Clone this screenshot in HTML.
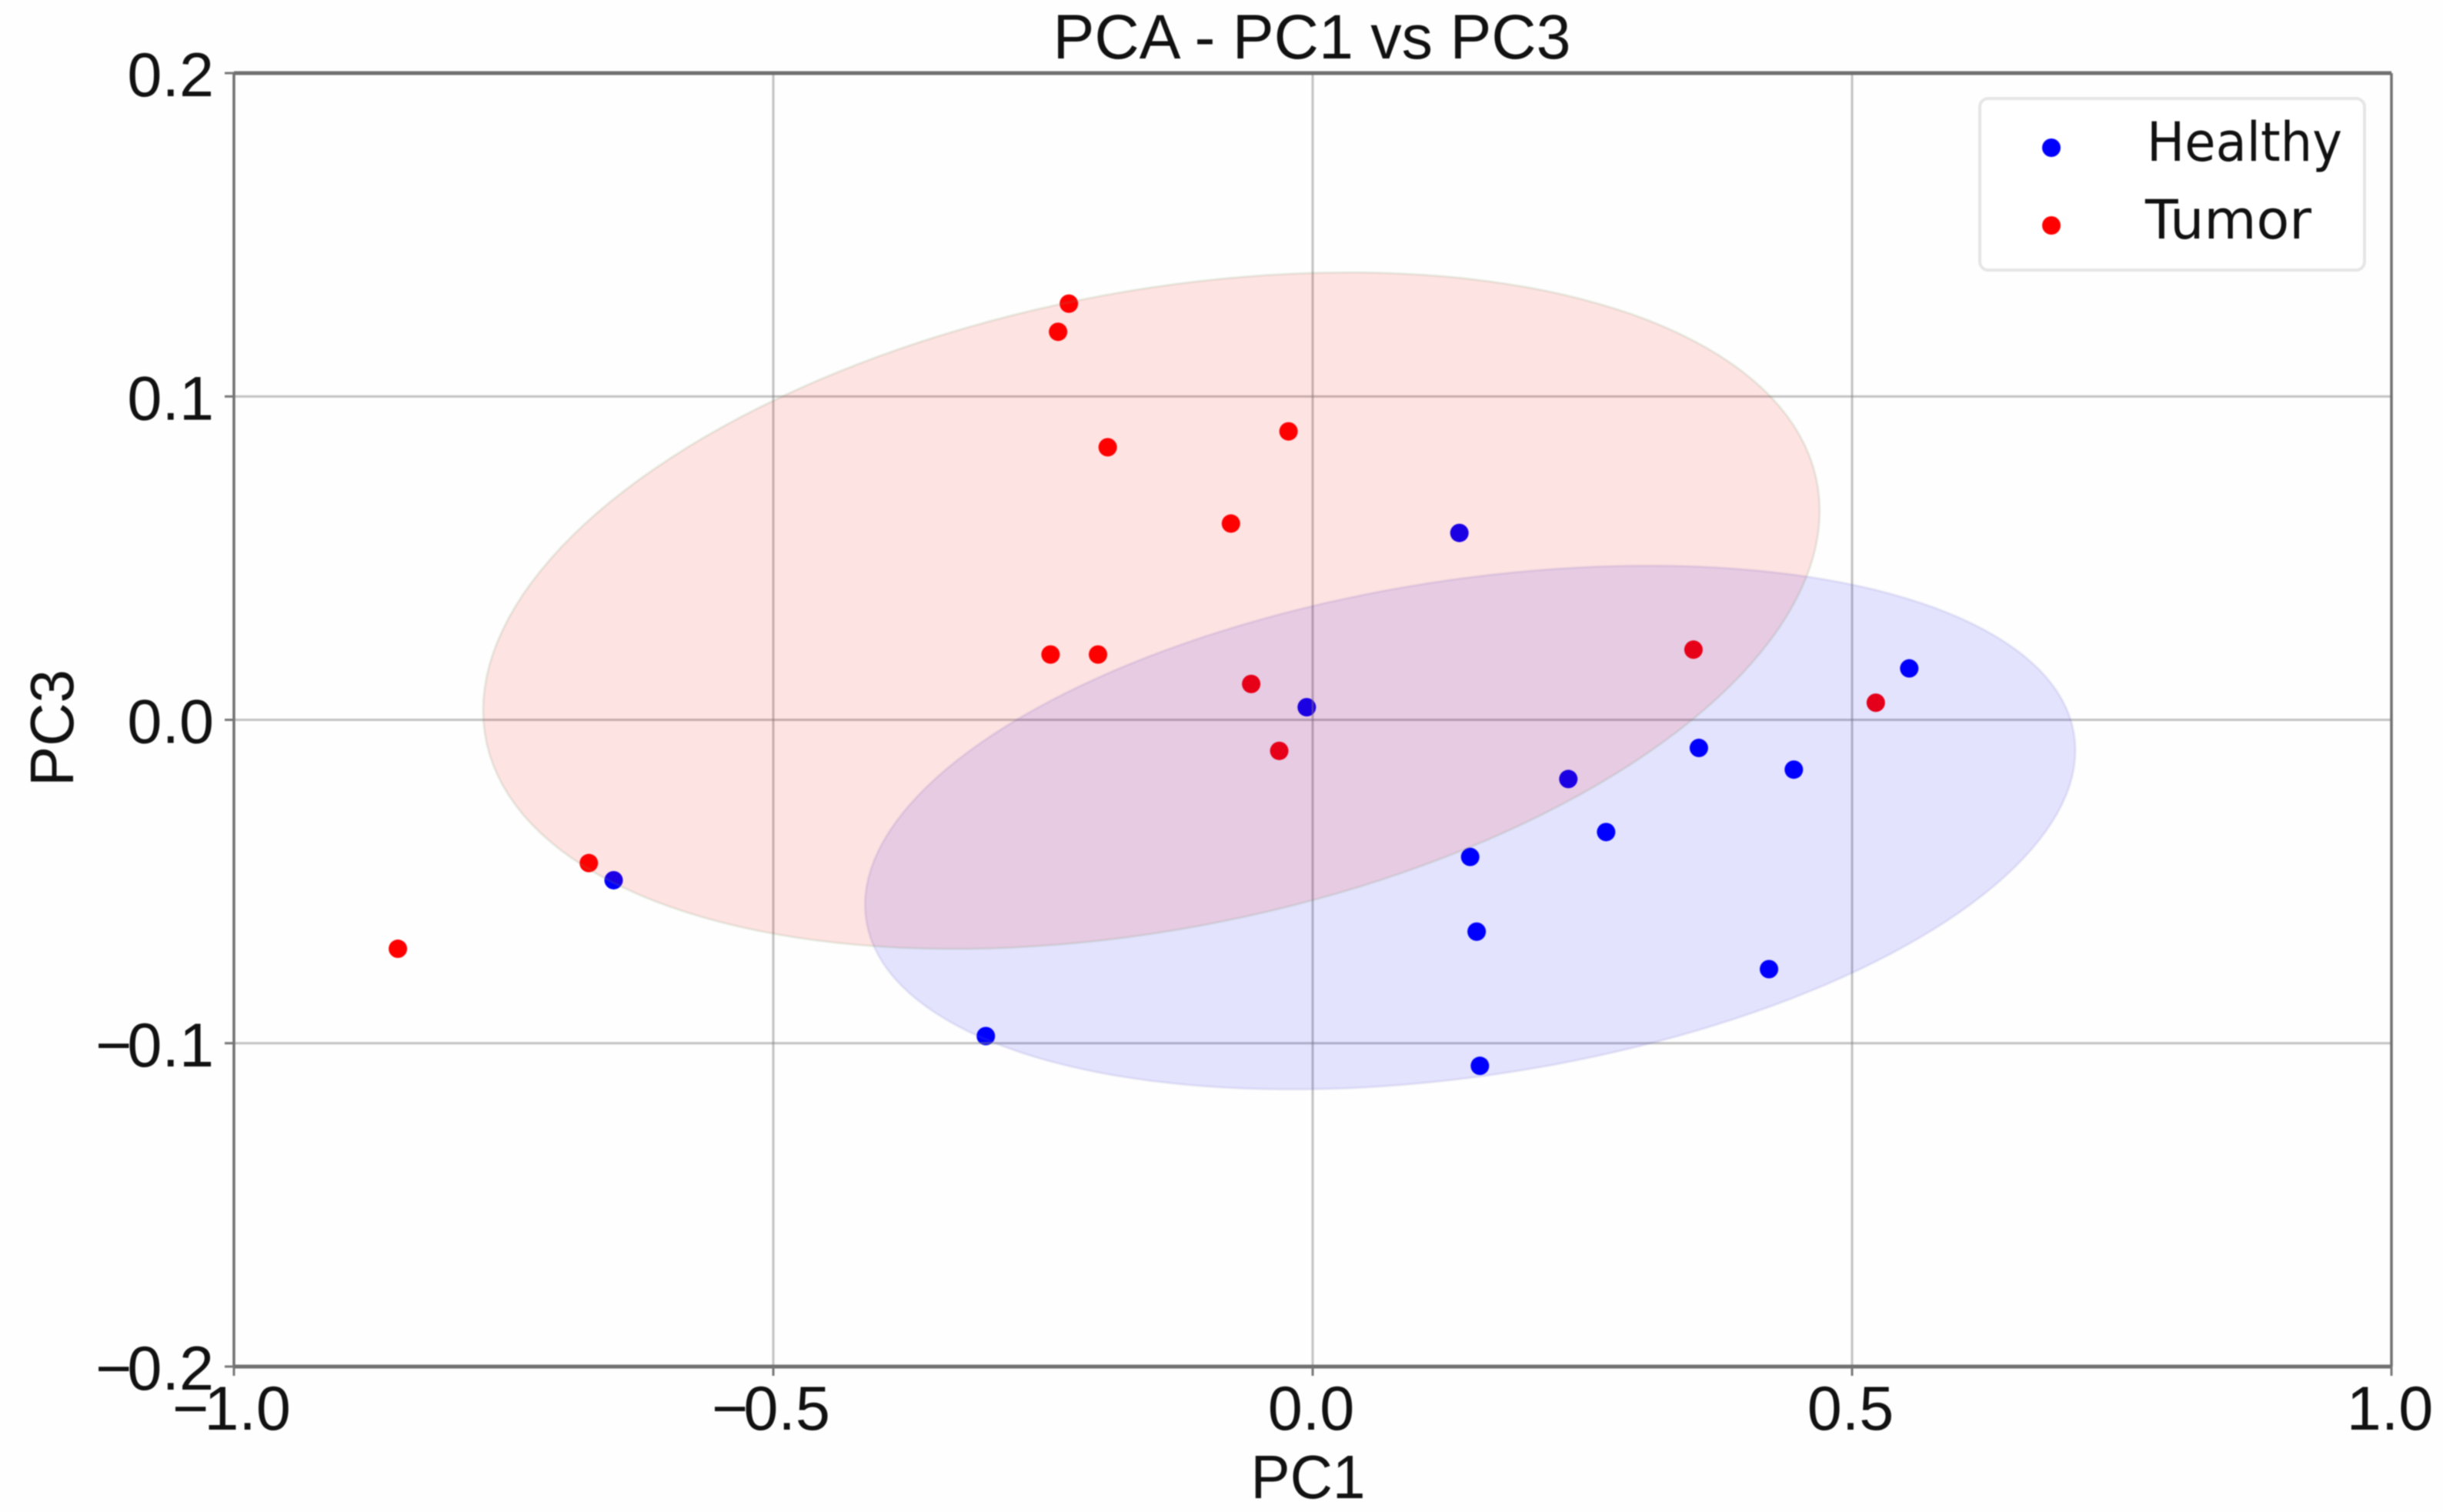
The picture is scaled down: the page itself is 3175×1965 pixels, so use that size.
<!DOCTYPE html>
<html lang="en">
<head>
<meta charset="utf-8">
<title>PCA - PC1 vs PC3</title>
<style>
html,body{margin:0;padding:0;background:#fefefe;width:3175px;height:1965px;overflow:hidden}
svg{display:block;font-family:"Liberation Sans",Arial,sans-serif;filter:blur(0.9px)}
text{fill:#111}
</style>
</head>
<body>
<svg id="chart" xmlns="http://www.w3.org/2000/svg" width="3175" height="1965" viewBox="0 0 3175 1965">
  <rect x="0" y="0" width="3175" height="1965" fill="#fefefe"/>
  <g id="points"></g>
  <g id="grid"></g>
  <g id="ellipses"></g>
  <g id="frame"></g>
  <g id="ticks"></g>
  <text x="1705" y="76" font-size="82" text-anchor="middle" textLength="673" lengthAdjust="spacingAndGlyphs">PCA - PC1 vs PC3</text>
  <text x="1700" y="1947" font-size="80" text-anchor="middle" textLength="149" lengthAdjust="spacingAndGlyphs">PC1</text>
  <text x="0" y="0" font-size="80" text-anchor="middle" textLength="152" lengthAdjust="spacingAndGlyphs" transform="translate(95 946) rotate(-90)">PC3</text>
  <g>
    <rect x="2573" y="128" width="500" height="223" rx="11" ry="11" fill="#ffffff" stroke="#e6e6e6" stroke-width="4"/>
    <circle cx="2666" cy="192" r="12" fill="#0000ff"/>
    <text x="2790" y="209" font-size="70" textLength="254" lengthAdjust="spacingAndGlyphs" style="font-family:'DejaVu Sans',sans-serif">Healthy</text>
    <circle cx="2666" cy="293" r="12" fill="#ff0000"/>
    <text x="2788" y="310" font-size="70" textLength="216" lengthAdjust="spacingAndGlyphs" style="font-family:'DejaVu Sans',sans-serif">Tumor</text>
  </g>
</svg>
<script>
const xTicks = [-1.0, -0.5, 0.0, 0.5, 1.0];
const xTickLabels = ["\u22121.0", "\u22120.5", "0.0", "0.5", "1.0"];
const yTicks = [-0.2, -0.1, 0.0, 0.1, 0.2];
const yTickLabels = ["\u22120.2", "\u22120.1", "0.0", "0.1", "0.2"];

const healthyX = [-0.648, -0.303, 0.136, -0.0055, 0.237, 0.272, 0.146, 0.152, 0.155, 0.358, 0.446, 0.423, 0.553];
const healthyY = [-0.0496, -0.0978, 0.0578, 0.0039, -0.0183, -0.0347, -0.0424, -0.0655, -0.107, -0.0087, -0.0154, -0.0771, 0.0159];
const tumorX = [-0.848, -0.671, -0.226, -0.236, -0.190, -0.0224, -0.0758, -0.243, -0.199, -0.057, -0.031, 0.353, 0.522];
const tumorY = [-0.0708, -0.0443, 0.1287, 0.12, 0.0843, 0.0892, 0.0607, 0.0202, 0.0202, 0.0111, -0.0096, 0.0217, 0.0053];

// ellipse statistics in data units: centre, half extents, correlation
const healthyEllipse = [0.146, -0.0333, 0.561, 0.081, 0.295];
const tumorEllipse = [-0.1495, 0.03375, 0.6195, 0.1046, 0.295];

const NS = "http://www.w3.org/2000/svg";
const plotLeft = 304, plotRight = 3108, plotTop = 95, plotBottom = 1776;
const xMin = -1, xMax = 1, yMin = -0.2, yMax = 0.2;
function sx(v) { return plotLeft + (v - xMin) / (xMax - xMin) * (plotRight - plotLeft); }
function sy(v) { return plotBottom - (v - yMin) / (yMax - yMin) * (plotBottom - plotTop); }
function make(tag, parent, attrs) {
  const el = document.createElementNS(NS, tag);
  for (const k in attrs) el.setAttribute(k, attrs[k]);
  parent.appendChild(el);
  return el;
}
function fillLabel(el, label) {
  if (label.charAt(0) === "\u2212") {
    const minus = make("tspan", el, {});
    minus.textContent = label.charAt(0);
    const rest = make("tspan", el, { dx: -6 });
    rest.textContent = label.slice(1);
  } else {
    el.textContent = label;
  }
}

const gridG = document.getElementById("grid");
const ticksG = document.getElementById("ticks");
const ellipsesG = document.getElementById("ellipses");
const pointsG = document.getElementById("points");
const frameG = document.getElementById("frame");

healthyX.forEach(function (v, i) {
  const c = make("circle", pointsG, { cx: sx(v), cy: sy(healthyY[i]), r: 12, fill: "#0000ff" });
  
  
});
tumorX.forEach(function (v, i) {
  const c = make("circle", pointsG, { cx: sx(v), cy: sy(tumorY[i]), r: 12, fill: "#ff0000" });
  
  
});

xTicks.forEach(function (v, i) {
  const g = make("line", gridG, { x1: sx(v), x2: sx(v), y1: plotTop, y2: plotBottom, stroke: "rgba(128,128,128,0.47)", "stroke-width": 3 });
  
  
  const t = make("line", ticksG, { x1: sx(v), x2: sx(v), y1: plotBottom, y2: plotBottom + 12, stroke: "#777", "stroke-width": 3 });
  
  
  const l = make("text", ticksG, { x: sx(v) - (v < 0 ? 3 : 2), y: 1858, "font-size": 81, "text-anchor": "middle" });
  
  
  fillLabel(l, xTickLabels[i]);
});
yTicks.forEach(function (v, i) {
  const g = make("line", gridG, { x1: plotLeft, x2: plotRight, y1: sy(v), y2: sy(v), stroke: "rgba(128,128,128,0.47)", "stroke-width": 3 });
  
  
  const t = make("line", ticksG, { x1: plotLeft - 12, x2: plotLeft, y1: sy(v), y2: sy(v), stroke: "#777", "stroke-width": 3 });
  
  
  const l = make("text", ticksG, { x: 278, y: sy(v) + 30, "font-size": 81, "text-anchor": "end" });
  
  
  fillLabel(l, yTickLabels[i]);
});

function ellipsePath(p) {
  const cx = p[0], cy = p[1], rx = p[2], ry = p[3], rho = p[4];
  const q = Math.sqrt(1 - rho * rho);
  let d = "";
  for (let k = 0; k < 180; k++) {
    const a = k / 180 * 2 * Math.PI;
    const x = cx + rx * Math.cos(a);
    const y = cy + ry * (rho * Math.cos(a) + q * Math.sin(a));
    d += (k ? "L" : "M") + sx(x).toFixed(1) + " " + sy(y).toFixed(1);
  }
  return d + "Z";
}
const blueEl = make("path", ellipsesG, { d: ellipsePath(healthyEllipse), fill: "rgba(0,0,255,0.105)", stroke: "rgba(110,110,190,0.14)", "stroke-width": 3 });


const redEl = make("path", ellipsesG, { d: ellipsePath(tumorEllipse), fill: "rgba(255,0,0,0.105)", stroke: "rgba(120,150,100,0.16)", "stroke-width": 3 });



const top_ = make("line", frameG, { x1: plotLeft, x2: plotRight, y1: plotTop, y2: plotTop, stroke: "#707070", "stroke-width": 5 });


const bottom_ = make("line", frameG, { x1: plotLeft, x2: plotRight, y1: plotBottom, y2: plotBottom, stroke: "#707070", "stroke-width": 5 });


const left_ = make("line", frameG, { x1: plotLeft, x2: plotLeft, y1: plotTop, y2: plotBottom, stroke: "#707070", "stroke-width": 3.5 });


const right_ = make("line", frameG, { x1: plotRight, x2: plotRight, y1: plotTop, y2: plotBottom, stroke: "#707070", "stroke-width": 3.5 });


</script>
</body>
</html>
